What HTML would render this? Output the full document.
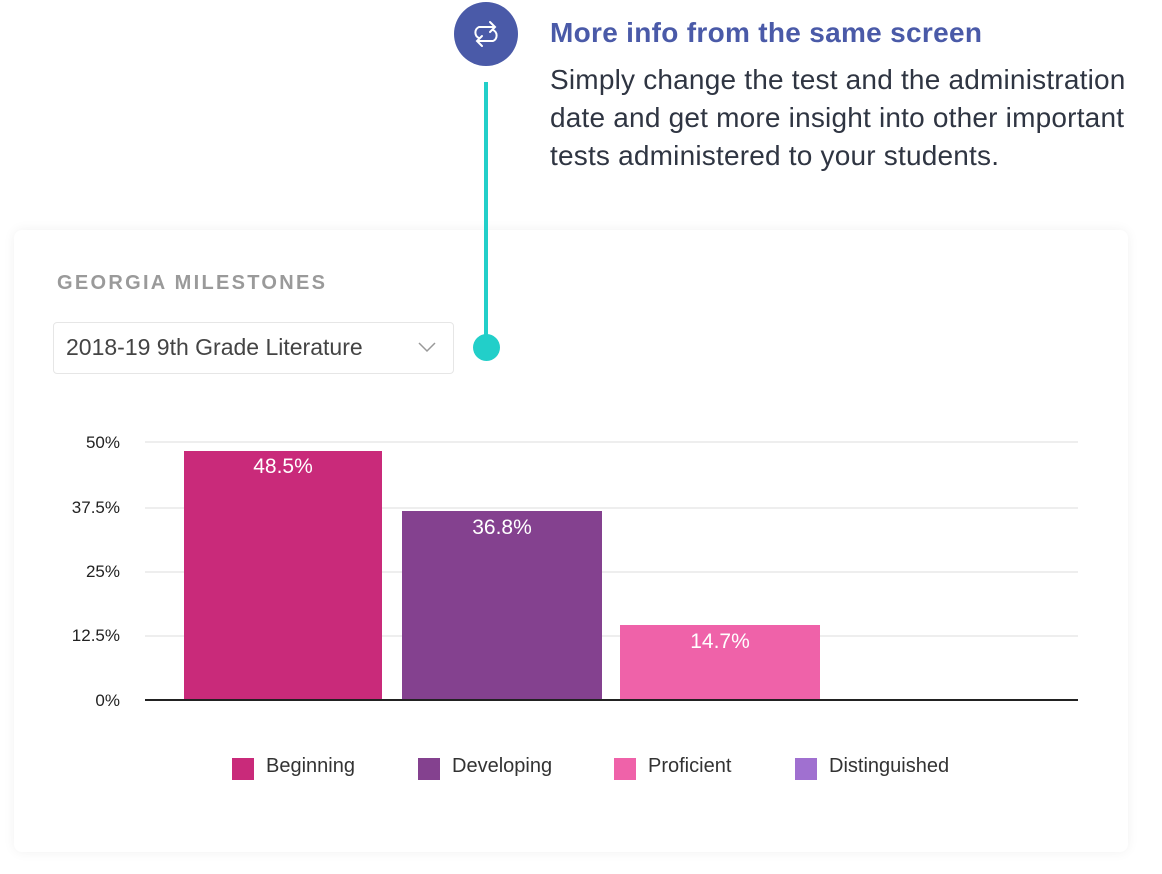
<!DOCTYPE html>
<html><head><meta charset="utf-8"><style>
body{margin:0;width:1162px;height:874px;background:#fff;position:relative;font-family:"Liberation Sans",sans-serif;overflow:hidden}
.a{position:absolute}
</style></head><body>
<div class="a" style="left:14px;top:230px;width:1114px;height:622px;border-radius:8px;box-shadow:0 0 12px rgba(0,0,0,0.06);background:#fff"></div>
<div class="a" style="left:454px;top:2px;width:64px;height:64px;border-radius:50%;background:#4a5aa8"></div>
<svg class="a" style="left:468px;top:16px" width="36" height="36" viewBox="0 0 36 36" fill="none" stroke="#fff" stroke-width="2" stroke-linecap="round">
<path d="M11 22 A6 6 0 0 1 11 11 H27 M22 6 L27 11 L22 16"/><path d="M25 14 A6 6 0 0 1 25 25 H9 M14 20 L9 25 L14 30"/></svg>
<div class="a" style="left:484px;top:82px;width:4px;height:266px;background:#22cfc9"></div>
<div class="a" style="left:473px;top:334px;width:27px;height:27px;border-radius:50%;background:#22cfc9"></div>
<div class="a" style="left:550px;top:17px;font-size:28px;font-weight:bold;color:#4a5aa8;letter-spacing:0.3px">More info from the same screen</div>
<div class="a" style="left:550px;top:61px;font-size:28px;line-height:38px;color:#2f3542;white-space:nowrap;letter-spacing:0.2px">Simply change the test and the administration<br>date and get more insight into other important<br>tests administered to your students.</div>
<div class="a" style="left:57px;top:272px;font-size:20px;font-weight:bold;color:#9a9a9a;letter-spacing:2.3px">GEORGIA MILESTONES</div>
<div class="a" style="left:53px;top:322px;width:399px;height:50px;border:1px solid #e6e6e6;border-radius:4px"></div>
<div class="a" style="left:66px;top:334px;font-size:23px;color:#444">2018-19 9th Grade Literature</div>
<svg class="a" style="left:418px;top:340px" width="20" height="14"><path d="M1 3 L9 11 L17 3" stroke="#999" stroke-width="1.5" fill="none"/></svg>
<div class="a" style="left:145px;top:441px;width:933px;height:2px;background:#eee"></div>
<div class="a" style="left:145px;top:507px;width:933px;height:2px;background:#eee"></div>
<div class="a" style="left:145px;top:571px;width:933px;height:2px;background:#eee"></div>
<div class="a" style="left:145px;top:635px;width:933px;height:2px;background:#eee"></div>
<div class="a" style="left:145px;top:699px;width:933px;height:2px;background:#222"></div>
<div class="a" style="right:1042px;top:433px;font-size:17px;color:#222;text-align:right">50%</div>
<div class="a" style="right:1042px;top:498px;font-size:17px;color:#222">37.5%</div>
<div class="a" style="right:1042px;top:562px;font-size:17px;color:#222">25%</div>
<div class="a" style="right:1042px;top:626px;font-size:17px;color:#222">12.5%</div>
<div class="a" style="right:1042px;top:691px;font-size:17px;color:#222">0%</div>
<div class="a" style="left:184px;top:451px;width:198px;height:248px;background:#c92a7a;color:#fff;font-size:21px;text-align:center;line-height:32px">48.5%</div>
<div class="a" style="left:402px;top:511px;width:200px;height:188px;background:#84418f;color:#fff;font-size:21px;text-align:center;line-height:34px">36.8%</div>
<div class="a" style="left:620px;top:625px;width:200px;height:74px;background:#ef62a9;color:#fff;font-size:21px;text-align:center;line-height:34px">14.7%</div>
<div class="a" style="left:232px;top:758px;width:22px;height:22px;background:#c92a7a"></div>
<div class="a" style="left:266px;top:755px;font-size:20px;color:#333">Beginning</div>
<div class="a" style="left:418px;top:758px;width:22px;height:22px;background:#84418f"></div>
<div class="a" style="left:452px;top:755px;font-size:20px;color:#333">Developing</div>
<div class="a" style="left:614px;top:758px;width:22px;height:22px;background:#ef62a9"></div>
<div class="a" style="left:648px;top:755px;font-size:20px;color:#333">Proficient</div>
<div class="a" style="left:795px;top:758px;width:22px;height:22px;background:#a070d0"></div>
<div class="a" style="left:829px;top:755px;font-size:20px;color:#333">Distinguished</div>
</body></html>
